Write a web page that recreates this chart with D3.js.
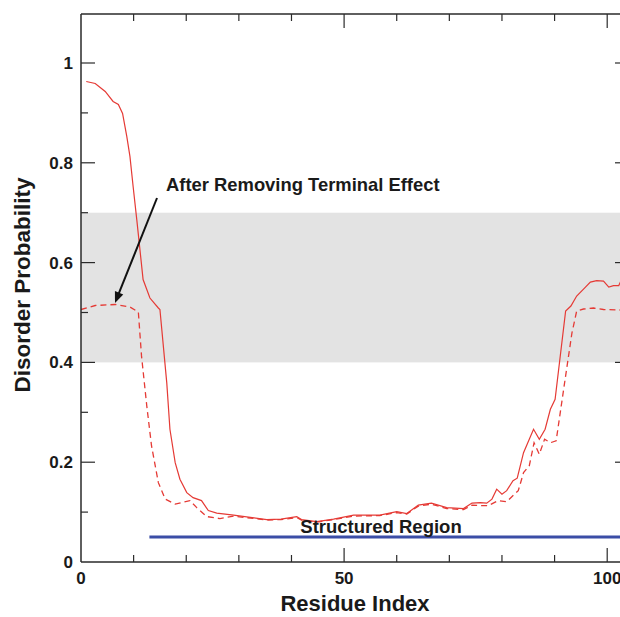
<!DOCTYPE html>
<html>
<head>
<meta charset="utf-8">
<script src="https://cdn.jsdelivr.net/npm/d3@7"></script>
<style>
  body { margin: 0; background: #fff; }
  svg { display: block; font-family: "Liberation Sans", Arial, sans-serif; }
</style>
</head>
<body>
<svg id="chart" width="620" height="617"></svg>
<script>
// predicted disorder, raw (solid)
var solidX = [1, 2.7, 4.6, 6.1, 7.1, 7.9, 8.7, 9.3, 9.9, 10.6, 11.2, 11.8, 13.1, 14.7, 15, 16.3, 16.9, 17.9, 18.8, 20.1, 21.3, 22.9, 24.2, 25.8, 29, 35.3, 38, 41, 41.9, 44.8, 48, 51.8, 56.8, 60, 61.9, 64.1, 66.6, 69.5, 72.7, 74.3, 75.9, 77.1, 78.1, 79, 80, 80.9, 82.1, 82.9, 84.1, 86, 87.1, 88.2, 89.2, 90.1, 92.1, 93.1, 94.2, 95.5, 96.8, 98, 99.3, 100.3, 101.2, 102.2, 102.8];
var solidY = [0.963, 0.959, 0.943, 0.923, 0.917, 0.899, 0.853, 0.813, 0.753, 0.686, 0.626, 0.566, 0.529, 0.509, 0.506, 0.359, 0.266, 0.199, 0.166, 0.139, 0.129, 0.123, 0.103, 0.098, 0.094, 0.085, 0.086, 0.091, 0.085, 0.081, 0.086, 0.094, 0.094, 0.101, 0.097, 0.114, 0.118, 0.109, 0.107, 0.118, 0.119, 0.118, 0.126, 0.146, 0.136, 0.143, 0.163, 0.168, 0.219, 0.266, 0.246, 0.266, 0.306, 0.326, 0.503, 0.513, 0.533, 0.547, 0.561, 0.564, 0.563, 0.551, 0.554, 0.554, 0.568];

// after removing terminal effect (dashed)
var dashX = [0, 2.7, 6.5, 9.3, 10.9, 11.5, 12.5, 13.4, 14.7, 16, 17.9, 20.7, 22, 23.9, 26.4, 29, 35.3, 38, 41, 41.9, 44.8, 48, 51.8, 56.8, 60, 61.9, 64.1, 66.6, 69.5, 72.7, 74.3, 75.9, 77.4, 79.3, 80.9, 83.1, 84.1, 85.2, 86.1, 87.1, 88.1, 89.2, 90.3, 92, 93.3, 94.2, 95.5, 97.4, 99.3, 102.2, 102.8];
var dashY = [0.506, 0.514, 0.516, 0.511, 0.501, 0.413, 0.313, 0.233, 0.159, 0.126, 0.116, 0.123, 0.109, 0.091, 0.087, 0.092, 0.084, 0.085, 0.089, 0.084, 0.080, 0.085, 0.092, 0.093, 0.099, 0.096, 0.112, 0.116, 0.107, 0.105, 0.114, 0.113, 0.113, 0.123, 0.121, 0.143, 0.179, 0.193, 0.239, 0.216, 0.246, 0.239, 0.243, 0.366, 0.459, 0.503, 0.507, 0.509, 0.506, 0.505, 0.505];

var bandRange = [0.4, 0.7];
var structuredRange = [13, 104];
var structuredLevel = 0.05;

var xTickLabels = [0, 50, 100];
var yTickLabels = [0, 0.2, 0.4, 0.6, 0.8, 1];

var svg = d3.select("#chart");
var margin = { left: 81, right: 629, top: 14, bottom: 562 };

var x = d3.scaleLinear().domain([0, (margin.right - margin.left) / 5.262]).range([margin.left, margin.right]);
var y = d3.scaleLinear().domain([0, 1.1]).range([margin.bottom, margin.bottom - 1.1 * 499]);

svg.append("defs").append("clipPath").attr("id", "plotClip")
  .append("rect").attr("x", margin.left).attr("y", margin.top)
  .attr("width", margin.right - margin.left).attr("height", margin.bottom - margin.top);

// gray band
svg.append("rect")
  .attr("x", margin.left).attr("width", margin.right - margin.left)
  .attr("y", y(bandRange[1])).attr("height", y(bandRange[0]) - y(bandRange[1]))
  .style("fill", "#e3e3e3");

var plot = svg.append("g").attr("clip-path", "url(#plotClip)");

var line = d3.line().x(function(d) { return x(d[0]); }).y(function(d) { return y(d[1]); });

plot.append("path")
  .datum(dashX.map(function(v, i) { return [v, dashY[i]]; }))
  .attr("d", line)
  .style("fill", "none").style("stroke", "#e53a35").style("stroke-width", 1.3)
  .style("stroke-dasharray", "6,4");

plot.append("path")
  .datum(solidX.map(function(v, i) { return [v, solidY[i]]; }))
  .attr("d", line)
  .style("fill", "none").style("stroke", "#e53a35").style("stroke-width", 1.2);

// structured region bar
plot.append("line")
  .attr("x1", x(structuredRange[0])).attr("x2", x(structuredRange[1]))
  .attr("y1", y(structuredLevel)).attr("y2", y(structuredLevel))
  .style("stroke", "#3b4da6").style("stroke-width", 3);

// frame + ticks
var axisColor = "#2a2a2a";
var frame = svg.append("g");
[[margin.left, margin.top, margin.left, margin.bottom],
 [margin.left, margin.bottom, margin.right, margin.bottom],
 [margin.left, margin.top, margin.right, margin.top],
 [margin.right, margin.top, margin.right, margin.bottom]].forEach(function(s) {
  frame.append("line").attr("x1", s[0]).attr("y1", s[1]).attr("x2", s[2]).attr("y2", s[3])
    .style("stroke", axisColor).style("stroke-width", 1.5);
});

var xTicks = d3.range(10, 110, 10);
xTicks.forEach(function(t) {
  var len = (t % 50 === 0) ? 14 : 7;
  frame.append("line").attr("x1", x(t)).attr("x2", x(t)).attr("y1", margin.bottom).attr("y2", margin.bottom - len)
    .style("stroke", axisColor).style("stroke-width", 1.2);
  frame.append("line").attr("x1", x(t)).attr("x2", x(t)).attr("y1", margin.top).attr("y2", margin.top + len)
    .style("stroke", axisColor).style("stroke-width", 1.2);
});
var yTicks = d3.range(1, 11).map(function(i) { return i / 10; });
yTicks.forEach(function(t, i) {
  var len = ((i + 1) % 2 === 0) ? 14 : 7;
  frame.append("line").attr("x1", margin.left).attr("x2", margin.left + len).attr("y1", y(t)).attr("y2", y(t))
    .style("stroke", axisColor).style("stroke-width", 1.2);
  frame.append("line").attr("x1", margin.right).attr("x2", margin.right - len).attr("y1", y(t)).attr("y2", y(t))
    .style("stroke", axisColor).style("stroke-width", 1.2);
});

// tick labels
svg.selectAll(".xlab").data(xTickLabels).enter().append("text")
  .attr("x", function(d) { return x(d); }).attr("y", 584)
  .attr("text-anchor", "middle")
  .style("font-size", "17px").style("font-weight", "bold").style("fill", "#1a1a1a")
  .text(function(d) { return d; });

svg.selectAll(".ylab").data(yTickLabels).enter().append("text")
  .attr("x", 73).attr("y", function(d) { return y(d) + 6; })
  .attr("text-anchor", "end")
  .style("font-size", "17px").style("font-weight", "bold").style("fill", "#1a1a1a")
  .text(function(d) { return d; });

// axis titles
svg.append("text").attr("x", 355).attr("y", 611).attr("text-anchor", "middle")
  .style("font-size", "22px").style("font-weight", "bold").style("fill", "#1a1a1a")
  .text("Residue Index");
svg.append("text").attr("transform", "translate(30,285) rotate(-90)").attr("text-anchor", "middle")
  .style("font-size", "22.5px").style("font-weight", "bold").style("fill", "#1a1a1a")
  .text("Disorder Probability");

// annotations
svg.append("text").attr("x", 166).attr("y", 191)
  .style("font-size", "18.4px").style("font-weight", "bold").style("fill", "#1a1a1a")
  .text("After Removing Terminal Effect");
svg.append("text").attr("x", 381).attr("y", 533).attr("text-anchor", "middle")
  .style("font-size", "18.5px").style("font-weight", "bold").style("fill", "#1a1a1a")
  .text("Structured Region");

var ax0 = [157, 198], ax1 = [115, 303];
var ang = Math.atan2(ax1[1] - ax0[1], ax1[0] - ax0[0]);
svg.append("line").attr("x1", ax0[0]).attr("y1", ax0[1])
  .attr("x2", ax1[0] - 6 * Math.cos(ang)).attr("y2", ax1[1] - 6 * Math.sin(ang))
  .style("stroke", "#111").style("stroke-width", 2);
var hl = 11, hw = 4.5;
var bx = ax1[0] - hl * Math.cos(ang), by = ax1[1] - hl * Math.sin(ang);
svg.append("path")
  .attr("d", "M" + ax1[0] + "," + ax1[1] +
    "L" + (bx + hw * Math.sin(ang)) + "," + (by - hw * Math.cos(ang)) +
    "L" + (bx - hw * Math.sin(ang)) + "," + (by + hw * Math.cos(ang)) + "Z")
  .style("fill", "#111");
</script>
</body>
</html>
